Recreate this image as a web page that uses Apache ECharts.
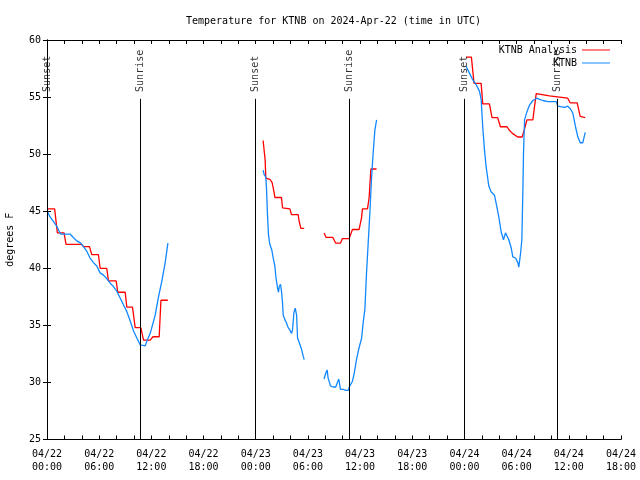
<!DOCTYPE html>
<html><head><meta charset="utf-8">
<script src="https://cdn.jsdelivr.net/npm/echarts/dist/echarts.min.js"></script>
<style>html,body{margin:0;padding:0;background:#fff}#c{width:640px;height:480px}</style>
</head><body><div id="c"></div>
<script>
// Hours since 04/22 00:00 UTC; null marks a gap
const analysisHours = [0.00,0.88,1.19,1.96,2.19,3.99,4.19,4.88,5.15,5.91,6.11,6.87,7.07,7.95,8.14,8.99,9.18,9.83,10.14,10.79,11.10,11.87,12.17,12.90,13.10,13.90,
  null,
  24.85,25.08,25.16,25.62,25.89,26.12,26.20,26.96,27.08,27.16,27.93,28.11,28.88,29.00,29.19,29.57,
  null,
  31.86,32.10,32.87,33.20,33.74,33.97,34.74,35.12,35.89,36.16,36.27,36.85,37.04,37.24,37.89,
  null,
  48.19,48.80,49.10,49.92,50.10,50.87,51.17,51.82,52.13,52.89,53.16,53.55,54.12,54.63,54.91,55.18,55.86,56.25,57.78,58.93,59.88,60.15,60.96,61.31,61.89];
const analysisTemps = [45.2,45.2,43.1,43.1,42.1,42.1,41.9,41.9,41.2,41.2,40.0,40.0,38.9,38.9,37.9,37.9,36.6,36.6,34.8,34.8,33.7,33.7,34.0,34.0,37.2,37.2,
  null,
  51.2,49.5,47.9,47.8,47.5,46.6,46.2,46.2,45.3,45.2,45.2,44.7,44.7,44.1,43.5,43.5,
  null,
  43.1,42.7,42.7,42.2,42.2,42.6,42.6,43.4,43.4,44.4,45.2,45.2,46.2,48.7,48.7,
  null,
  58.5,58.5,56.2,56.2,54.4,54.4,53.2,53.2,52.4,52.4,52.1,51.8,51.5,51.5,52.2,53.0,53.0,55.3,55.1,55.0,54.9,54.5,54.5,53.3,53.2];

const obsHours = [0.04,0.35,0.73,1.11,1.42,1.57,2.65,3.03,3.42,3.88,4.19,4.57,4.95,5.34,5.72,6.11,6.49,6.87,7.26,7.64,8.02,8.41,8.79,9.18,9.56,9.95,10.33,10.71,10.83,11.29,11.48,11.87,12.44,12.82,13.21,13.59,13.90,
  null,
  24.85,24.97,25.16,25.24,25.35,25.47,25.62,25.85,26.01,26.20,26.31,26.50,26.62,26.70,26.85,26.96,27.08,27.16,27.35,27.54,27.73,27.92,28.12,28.23,28.39,28.54,28.70,28.81,29.00,29.27,29.46,29.57,
  null,
  31.86,32.05,32.21,32.32,32.59,32.90,33.20,33.39,33.55,33.74,34.05,34.35,34.62,34.82,35.12,35.32,35.59,35.78,35.97,36.16,36.35,36.55,36.74,36.93,37.12,37.31,37.50,37.70,37.90,
  null,
  48.19,48.57,48.96,49.34,49.73,49.92,50.10,50.30,50.49,50.80,51.06,51.45,51.64,51.95,52.22,52.49,52.72,52.87,53.10,53.37,53.56,53.87,54.14,54.25,54.45,54.60,54.72,54.79,54.91,55.18,55.48,55.86,56.32,56.63,57.02,57.59,58.55,58.74,59.51,59.88,60.15,60.46,60.77,61.04,61.31,61.61,61.73,61.89];
const obsTemps = [45.0,44.5,44.1,43.7,43.2,43.0,43.0,42.7,42.4,42.2,41.9,41.5,40.9,40.5,40.2,39.6,39.4,39.1,38.7,38.4,38.0,37.4,36.8,36.2,35.4,34.5,33.9,33.3,33.2,33.2,33.6,34.3,35.9,37.5,38.9,40.5,42.2,
  null,
  48.6,48.2,48.0,47.0,44.7,42.9,42.1,41.6,40.9,40.2,39.3,38.3,37.9,38.4,38.6,38.0,37.0,35.9,35.5,35.2,34.8,34.6,34.3,34.6,36.1,36.5,35.9,33.9,33.5,32.9,32.3,32.0,
  null,
  30.3,30.8,31.1,30.4,29.7,29.6,29.6,30.0,30.3,29.4,29.4,29.3,29.3,29.7,30.1,30.8,32.0,32.7,33.3,33.8,35.2,36.4,39.6,42.2,44.8,47.8,50.1,52.1,53.0,
  null,
  57.7,57.1,56.5,56.1,55.5,54.8,52.4,50.4,48.9,47.2,46.7,46.4,45.7,44.5,43.2,42.5,43.1,43.2,42.5,41.8,41.0,40.9,40.5,40.1,41.3,42.5,46.9,50.1,53.0,53.7,54.3,54.7,54.9,54.8,54.7,54.6,54.6,54.2,54.1,54.2,54.0,53.6,52.4,51.5,51.0,51.0,51.4,51.9];

const sunEventHours = [0.0, 10.71, 23.97, 34.73, 48.03, 58.72];
const sunEventNames = ['Sunset','Sunrise','Sunset','Sunrise','Sunset','Sunrise'];
const xTickLabels = ['04/22\n00:00','04/22\n06:00','04/22\n12:00','04/22\n18:00','04/23\n00:00','04/23\n06:00',
  '04/23\n12:00','04/23\n18:00','04/24\n00:00','04/24\n06:00','04/24\n12:00','04/24\n18:00'];

const FONT = 'DejaVu Sans Mono';
const RED = '#ff0000', BLUE = '#1188ff';
const pair = (hs, vs) => hs.map((h, i) => h === null ? [null, null] : [h, vs[i]]);
const blk = '#000';
const axisCommon = {
  axisLine: {show: true, lineStyle: {color: blk, width: 1}},
  axisTick: {show: true, inside: true, length: 4, lineStyle: {color: blk}},
  splitLine: {show: false}
};

const chart = echarts.init(document.getElementById('c'), null, {renderer: 'canvas'});
chart.setOption({
  animation: false,
  backgroundColor: '#fff',
  title: {text: 'Temperature for KTNB on 2024-Apr-22 (time in UTC)', left: 181, top: 11,
    textStyle: {fontFamily: FONT, fontSize: 10, fontWeight: 'normal', color: blk}},
  legend: {data: ['KTNB Analysis', 'KTNB'], orient: 'vertical', right: 25, top: 39, align: 'right',
    icon: 'rect', itemWidth: 28, itemHeight: 1, itemGap: 1,
    textStyle: {fontFamily: FONT, fontSize: 10, color: blk, lineHeight: 12}},
  grid: {left: 47, right: 19, top: 40, bottom: 40.5, containLabel: false, outerBoundsMode: 'none'},
  xAxis: [
    Object.assign({type: 'value', min: 0, max: 66, interval: 2, position: 'bottom',
      axisLabel: {margin: 8, fontFamily: FONT, fontSize: 10, color: blk, lineHeight: 13, hideOverlap: false,
        formatter: v => (v % 6 === 0 ? xTickLabels[v / 6] : '')}}, axisCommon),
    Object.assign({type: 'value', min: 0, max: 66, interval: 2, position: 'top', axisLabel: {show: false}}, axisCommon)
  ],
  yAxis: [
    Object.assign({type: 'value', min: 25, max: 60, interval: 5, position: 'left',
      name: 'degrees F', nameLocation: 'middle', nameGap: 32,
      nameTextStyle: {fontFamily: FONT, fontSize: 10, color: blk},
      axisLabel: {margin: 6, fontFamily: FONT, fontSize: 10, color: blk}}, axisCommon),
    Object.assign({type: 'value', min: 25, max: 60, interval: 5, position: 'right', axisLabel: {show: false}}, axisCommon)
  ],
  series: [
    {type: 'line', name: 'KTNB Analysis', data: pair(analysisHours, analysisTemps), showSymbol: false,
      connectNulls: false, lineStyle: {color: RED, width: 1.3}, itemStyle: {color: RED}, z: 3},
    {type: 'line', name: 'KTNB', data: pair(obsHours, obsTemps), showSymbol: false,
      connectNulls: false, lineStyle: {color: BLUE, width: 1.3}, itemStyle: {color: BLUE}, z: 4},
    {type: 'scatter', name: 'sun', data: sunEventHours.map((h, i) => ({value: [h, 55.45], name: sunEventNames[i]})),
      symbolSize: 0.1, itemStyle: {color: 'rgba(0,0,0,0)'}, silent: true, clip: false, z: 5,
      label: {show: true, formatter: p => p.name, position: 'inside', rotate: 90, align: 'left', verticalAlign: 'middle',
        fontFamily: FONT, fontSize: 10, color: blk},
      markLine: {silent: true, symbol: 'none', animation: false, label: {show: false},
        lineStyle: {color: blk, width: 1, type: 'solid'},
        data: sunEventHours.map(h => [{coord: [h, 25]}, {coord: [h, 54.85]}])}}
  ]
});
</script></body></html>
